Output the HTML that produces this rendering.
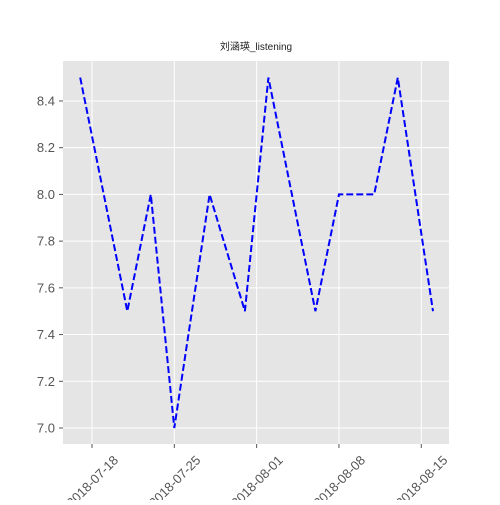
<!DOCTYPE html>
<html><head><meta charset="utf-8"><style>
body{margin:0;background:#fff}
svg text{font-family:"Liberation Sans","Noto Sans CJK SC",sans-serif}
</style></head><body>
<svg id="c" width="500" height="500">
<rect x="0" y="0" width="500" height="500" fill="#fff"/>
<rect x="63" y="61" width="386" height="383" fill="#e5e5e5"/>
<text x="256" y="50" font-size="10" text-anchor="middle" fill="#222">刘涵瑛_listening</text>
<g id="grid"></g><g id="axes"></g><g id="series"></g>
</svg>
<script>
const dates=["2018-07-17","2018-07-21","2018-07-23","2018-07-25","2018-07-28","2018-07-31","2018-08-02","2018-08-06","2018-08-08","2018-08-11","2018-08-13","2018-08-16"];
const scores=[8.5,7.5,8.0,7.0,8.0,7.5,8.5,7.5,8.0,8.0,8.5,7.5];
const yTicks=[7.0,7.2,7.4,7.6,7.8,8.0,8.2,8.4];
const xTicks=["2018-07-18","2018-07-25","2018-08-01","2018-08-08","2018-08-15"];
const ns="http://www.w3.org/2000/svg";
const d0=Date.UTC(2018,6,18);
function day(s){const p=s.split("-");return (Date.UTC(+p[0],p[1]-1,+p[2])-d0)/864e5;}
function X(s){return 92+day(s)*11.76;}
function Y(v){return 428-(v-7.0)*233.6;}
function mk(t,a,parent){const e=document.createElementNS(ns,t);for(const k in a)e.setAttribute(k,a[k]);parent.appendChild(e);return e;}
const grid=document.getElementById("grid"),axes=document.getElementById("axes"),ser=document.getElementById("series");
yTicks.forEach(v=>{
 const l=mk("line",{x1:63,x2:449,y1:Y(v),y2:Y(v),stroke:"#fff","stroke-width":1},grid);
 
 
 mk("line",{x1:59,x2:63,y1:Y(v),y2:Y(v),stroke:"#555"},axes);
 const t=mk("text",{x:55,y:Y(v)+4.5,"font-size":13,"text-anchor":"end",fill:"#555"},axes);
 t.textContent=v.toFixed(1);
 
 
});
xTicks.forEach(s=>{
 const x=X(s);
 const l=mk("line",{x1:x,x2:x,y1:61,y2:444,stroke:"#fff","stroke-width":1},grid);
 
 
 mk("line",{x1:x,x2:x,y1:444,y2:448,stroke:"#555"},axes);
 const t=mk("text",{x:x,y:486,"font-size":13,"text-anchor":"middle",fill:"#555",transform:`rotate(-45 ${x} 481)`},axes);
 t.textContent=s;
 
 
});
const pts=dates.map((d,i)=>X(d).toFixed(1)+","+Y(scores[i]).toFixed(1)).join(" ");
const pl=mk("polyline",{points:pts,fill:"none",stroke:"#0000ff","stroke-width":2,"stroke-dasharray":"7,3"},ser);


</script>
</body></html>
